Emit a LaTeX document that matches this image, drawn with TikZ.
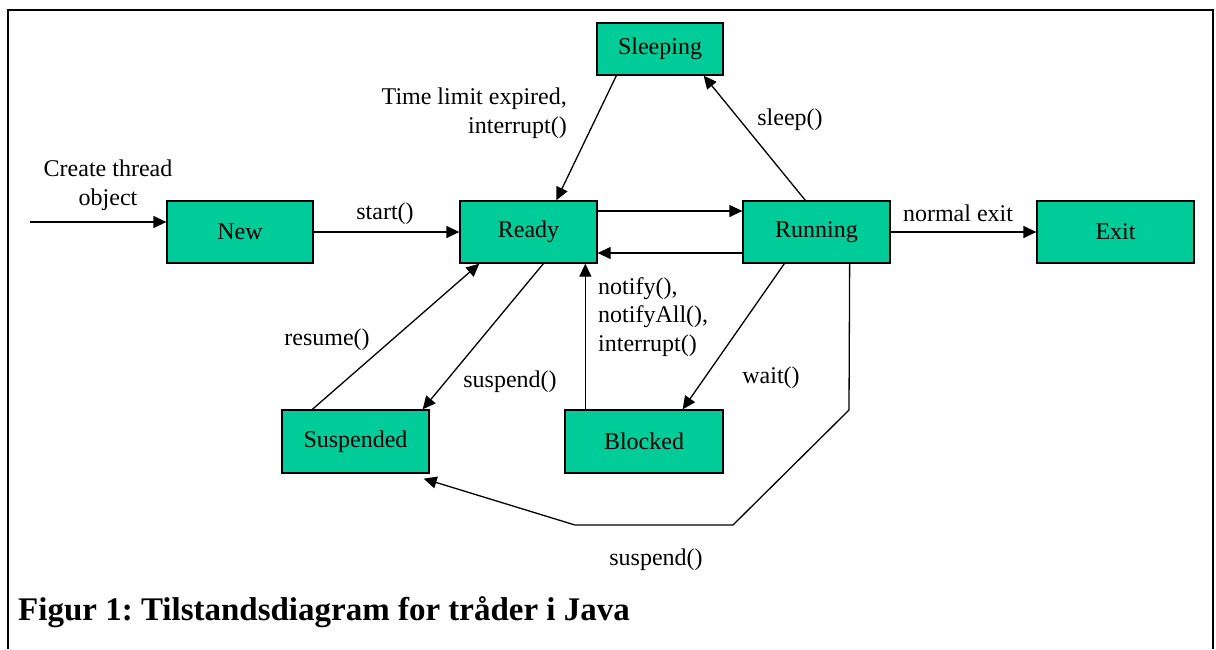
\documentclass[tikz,border=0pt]{standalone}
\usepackage{fontspec}
\setmainfont{Liberation Serif}
\usetikzlibrary{arrows.meta,calc}
\definecolor{stategreen}{RGB}{0,204,153}
\frenchspacing

\begin{document}
\begin{tikzpicture}[x=1pt,y=-1pt,
    state/.style={rectangle, draw, fill=stategreen, line width=1.3pt, inner sep=0pt,
        minimum height=62pt, font=\fontsize{24}{28}\selectfont},
    trans/.style={-{Triangle[length=13pt,width=12pt]}, line width=1.3pt},
    lbl/.style={font=\fontsize{24}{28.5}\selectfont, inner sep=0pt}]

                \useasboundingbox (0,0) rectangle (1216,649);
                \draw[line width=2pt] (8,649) -- (8,10) -- (1213,10) -- (1213,649);

                \node[state, minimum width=146pt] (New) at (240,232) {New};
                \node[state, minimum width=137pt] (Ready) at (528.5,232) {Ready};
                \node[state, minimum width=147pt] (Running) at (816.5,232) {Running};
                \node[state, minimum width=157pt] (Exit) at (1115.5,232) {Exit};
                \node[state, minimum width=126pt, minimum height=52pt] (Sleeping) at (660,49) {Sleeping};
                \node[state, minimum width=147pt, minimum height=63pt] (Suspended) at (355.5,441.5) {Suspended};
                \node[state, minimum width=158pt, minimum height=63pt] (Blocked) at (644,441.5) {Blocked};

                \coordinate (create) at (30,222);
                \coordinate (bendA) at (849,410);
                \coordinate (bendB) at (733,525);
                \coordinate (bendC) at (575,525);

                \draw[trans] (create) -- ([yshift=10pt]New.west);
                \draw[trans] (New) -- (Ready);
                \draw[trans] ([yshift=21pt]Ready.east) -- ([yshift=21pt]Running.west);
                \draw[trans] ([yshift=-21pt]Running.west) -- ([yshift=-21pt]Ready.east);
                \draw[trans] (Running) -- (Exit);
                \draw[trans] ([xshift=20pt]Sleeping.south west) -- ([xshift=97pt]Ready.north west);
                \draw[trans] ([xshift=63pt]Running.north west) -- ([xshift=-20pt]Sleeping.south east);
                \draw[trans] ([xshift=31pt]Suspended.north west) -- ([xshift=20pt]Ready.south west);
                \draw[trans] ([xshift=84pt]Ready.south west) -- ([xshift=-7pt]Suspended.north east);
                \draw[trans] ([xshift=21pt]Blocked.north west) -- ([xshift=21pt]Blocked.north west |- Ready.south);
                \draw[trans] ([xshift=42pt]Running.south west) -- ([xshift=-41pt]Blocked.north east);
                \draw[trans] ([xshift=-41pt]Running.south east) -- (bendA) -- (bendB) -- (bendC)
                    -- ([xshift=-6pt,yshift=-5pt]Suspended.south east);

                \node[lbl, align=center] (createlbl) at (108,185) {Create thread\\object};
                \node[lbl] (startlbl) at (385,214) {start()};
                \node[lbl] (exitlbl) at (958,213) {normal exit};
                \node[lbl, align=right, anchor=east] (timelbl) at (567,113) {Time limit expired,\\interrupt()};
                \node[lbl] (sleeplbl) at (790,120) {sleep()};
                \node[lbl] (resumelbl) at (327,340) {resume()};
                \node[lbl] (suspendlbl) at (510,382) {suspend()};
                \node[lbl, align=left, anchor=west] (notifylbl) at (598,317) {notify(),\\notifyAll(),\\interrupt()};
                \node[lbl] (waitlbl) at (771,378) {wait()};
                \node[lbl] (suspendlbl2) at (656,560) {suspend()};
                \node[lbl, anchor=west, font=\fontsize{33}{38}\selectfont\bfseries] (caption) at (18,612)
                    {Figur 1: Tilstandsdiagram for tråder i Java};

            \end{tikzpicture}
\end{document}
